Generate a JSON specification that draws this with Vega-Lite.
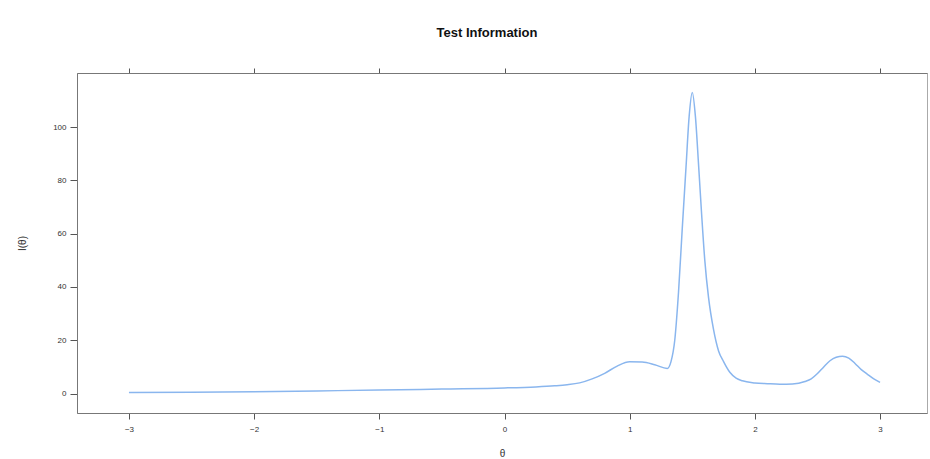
{
  "$schema": "https://vega.github.io/schema/vega-lite/v6.json",
  "width": 850,
  "height": 340,
  "autosize": {"type": "none"},
  "padding": {"left": 77, "top": 73, "right": 3, "bottom": 46},
  "background": "white",
  "title": {"text": "Test Information", "font": "Liberation Sans", "fontSize": 13, "fontWeight": "bold", "color": "#111", "anchor": "middle", "dx": -15, "offset": 28},
  "config": {
    "view": {"stroke": "#aaa", "strokeWidth": 1},
    "axis": {"labelFont": "Liberation Sans", "titleFont": "Liberation Sans", "labelFontSize": 8, "titleFontSize": 10, "labelColor": "#333", "titleColor": "#333", "domainColor": "#777", "tickColor": "#555", "grid": false, "titleFontWeight": "normal"}
  },
  "data": {"values": [
    {"theta": -3.0, "info": 0.4},
    {"theta": -2.5, "info": 0.5},
    {"theta": -2.0, "info": 0.7},
    {"theta": -1.5, "info": 1.0},
    {"theta": -1.0, "info": 1.3},
    {"theta": -0.5, "info": 1.7},
    {"theta": 0.0, "info": 2.1},
    {"theta": 0.25, "info": 2.5},
    {"theta": 0.4, "info": 2.9},
    {"theta": 0.5, "info": 3.3},
    {"theta": 0.6, "info": 4.0},
    {"theta": 0.7, "info": 5.5},
    {"theta": 0.8, "info": 7.6},
    {"theta": 0.9, "info": 10.3},
    {"theta": 1.0, "info": 11.9},
    {"theta": 1.1, "info": 11.8},
    {"theta": 1.2, "info": 10.8},
    {"theta": 1.3, "info": 9.4},
    {"theta": 1.33, "info": 12},
    {"theta": 1.36, "info": 20},
    {"theta": 1.39, "info": 38},
    {"theta": 1.42, "info": 62},
    {"theta": 1.45, "info": 85},
    {"theta": 1.475, "info": 104},
    {"theta": 1.5, "info": 113},
    {"theta": 1.525, "info": 104},
    {"theta": 1.55, "info": 86},
    {"theta": 1.575, "info": 67},
    {"theta": 1.6, "info": 50},
    {"theta": 1.63, "info": 36},
    {"theta": 1.67, "info": 24},
    {"theta": 1.71, "info": 16},
    {"theta": 1.75, "info": 12},
    {"theta": 1.8, "info": 8},
    {"theta": 1.85, "info": 5.8},
    {"theta": 1.9, "info": 4.8},
    {"theta": 2.0, "info": 4.0},
    {"theta": 2.1, "info": 3.7},
    {"theta": 2.2, "info": 3.5},
    {"theta": 2.3, "info": 3.6},
    {"theta": 2.4, "info": 4.5},
    {"theta": 2.45, "info": 5.5},
    {"theta": 2.5, "info": 7.5},
    {"theta": 2.55, "info": 10},
    {"theta": 2.6, "info": 12.3},
    {"theta": 2.65, "info": 13.6},
    {"theta": 2.7, "info": 14.0},
    {"theta": 2.75, "info": 13.3},
    {"theta": 2.8, "info": 11.3},
    {"theta": 2.85, "info": 9.0},
    {"theta": 2.9, "info": 7.2},
    {"theta": 2.95, "info": 5.5},
    {"theta": 3.0, "info": 4.2}
  ]},
  "layer": [
    {
      "mark": {"type": "line", "color": "#8ab6ee", "strokeWidth": 1.5, "interpolate": "monotone", "clip": true},
      "encoding": {
        "x": {"field": "theta", "type": "quantitative", "scale": {"domain": [-3.415, 3.375], "nice": false, "zero": false},
              "axis": {"title": "θ", "values": [-3, -2, -1, 0, 1, 2, 3], "tickSize": 6, "labelPadding": 6, "titlePadding": 15, "format": "d"}},
        "y": {"field": "info", "type": "quantitative", "scale": {"domain": [-7.3, 120.3], "nice": false, "zero": false},
              "axis": {"title": "I(θ)", "values": [0, 20, 40, 60, 80, 100], "tickSize": 7, "labelPadding": 4, "titlePadding": 25, "labelAngle": 0}}
      }
    },
    {
      "mark": {"type": "line", "opacity": 0},
      "encoding": {
        "x": {"field": "theta", "type": "quantitative", "axis": {"orient": "top", "title": null, "labels": false, "values": [-3, -2, -1, 0, 1, 2, 3], "tickSize": 5}},
        "y": {"field": "info", "type": "quantitative"}
      }
    }
  ],
  "resolve": {"axis": {"x": "independent"}}
}
